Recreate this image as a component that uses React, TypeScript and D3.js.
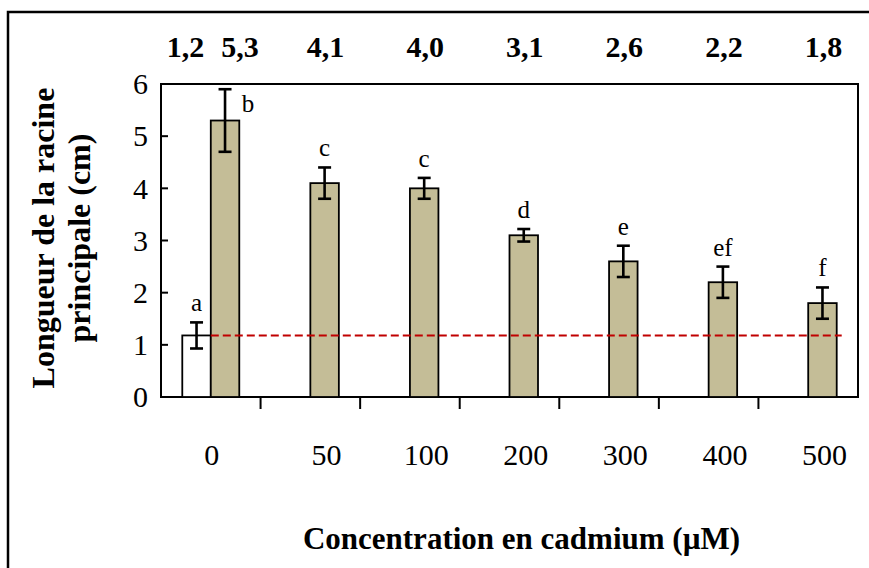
import { useRef, useEffect } from 'react';
import * as d3 from 'd3';

const concentrations = ['0', '50', '100', '200', '300', '400', '500'];
// control series (only at 0 µM)
const controlMeans = [1.18, null, null, null, null, null, null];
const controlErrors = [0.25, null, null, null, null, null, null];
const controlLetters = ['a', '', '', '', '', '', ''];
// cadmium series
const cadmiumMeans = [5.3, 4.1, 4.0, 3.1, 2.6, 2.2, 1.8];
const cadmiumErrors = [0.6, 0.3, 0.2, 0.12, 0.3, 0.3, 0.3];
const cadmiumLetters = ['b', 'c', 'c', 'd', 'e', 'ef', 'f'];
const yTicks = [0, 1, 2, 3, 4, 5, 6];

const FONT = "'Liberation Serif', 'Times New Roman', Times, serif";
const fmt = (v: number) => d3.format('.1f')(v).replace('.', ',');

const RootChart = () => {
  const svgRef = useRef<SVGSVGElement>(null);

  useEffect(() => {
    const svg = d3.select(svgRef.current)
      .attr('width', 869)
      .attr('height', 568)
      .style('font-family', FONT);

    svg.selectAll('*').remove();

    const left = 161, right = 858, top = 84, bottom = 397;

    const x = d3.scaleBand()
      .domain(concentrations)
      .range([left, right])
      .padding(0);

    const y = d3.scaleLinear()
      .domain([0, 6])
      .range([bottom, top]);

    const barW = 28.5;
    const center = (c: string) => (x(c) as number) + x.bandwidth() / 2;
    const ctrlX = (c: string) => center(c) - barW;
    const cdX = (c: string) => center(c);

    // outer frame
    svg.append('rect')
      .attr('x', 8).attr('y', 12)
      .attr('width', 900).attr('height', 600)
      .attr('fill', 'none').attr('stroke', '#000').attr('stroke-width', 2.5);

    // plot frame
    svg.append('rect')
      .attr('x', left).attr('y', top)
      .attr('width', right - left).attr('height', bottom - top)
      .attr('fill', 'none').attr('stroke', '#000').attr('stroke-width', 2);

    // y axis ticks (inside) and labels
    const yAxis = svg.append('g');
    yAxis.selectAll('line')
      .data(yTicks)
      .enter().append('line')
      .attr('x1', left).attr('x2', left + 7)
      .attr('y1', d => y(d)).attr('y2', d => y(d))
      .attr('stroke', '#000').attr('stroke-width', 2);
    yAxis.selectAll('text')
      .data(yTicks)
      .enter().append('text')
      .attr('x', left - 13)
      .attr('y', d => y(d))
      .attr('dy', '0.34em')
      .attr('text-anchor', 'end')
      .style('font-size', '30px')
      .text(d => d);

    // x ticks at category boundaries
    svg.append('g').selectAll('line')
      .data(concentrations.slice(1))
      .enter().append('line')
      .attr('x1', d => x(d) as number).attr('x2', d => x(d) as number)
      .attr('y1', bottom).attr('y2', bottom + 12)
      .attr('stroke', '#000').attr('stroke-width', 2);

    // x labels: centred on the bars present in each group
    svg.append('g').selectAll('text')
      .data(concentrations)
      .enter().append('text')
      .attr('x', (d, i) => controlMeans[i] != null ? center(d) + 1 : cdX(d) + barW / 2 + 2)
      .attr('y', 465)
      .attr('text-anchor', 'middle')
      .style('font-size', '30px')
      .text(d => d);

    // control bars
    const ctrl = concentrations
      .map((c, i) => ({ c, v: controlMeans[i], e: controlErrors[i], l: controlLetters[i] }))
      .filter(d => d.v != null) as { c: string; v: number; e: number; l: string }[];
    const cd = concentrations
      .map((c, i) => ({ c, v: cadmiumMeans[i], e: cadmiumErrors[i], l: cadmiumLetters[i] }));

    svg.append('g').selectAll('rect')
      .data(ctrl)
      .enter().append('rect')
      .attr('x', d => ctrlX(d.c))
      .attr('y', d => y(d.v))
      .attr('width', barW)
      .attr('height', d => bottom - y(d.v))
      .attr('fill', '#fff').attr('stroke', '#000').attr('stroke-width', 1.8);

    svg.append('g').selectAll('rect')
      .data(cd)
      .enter().append('rect')
      .attr('x', d => cdX(d.c))
      .attr('y', d => y(d.v))
      .attr('width', barW)
      .attr('height', d => bottom - y(d.v))
      .attr('fill', '#c4bd97').attr('stroke', '#000').attr('stroke-width', 1.8);

    // reference dashed line at control level
    const refV = ctrl[0].v;
    const lastC = concentrations[concentrations.length - 1];
    svg.append('line')
      .attr('x1', ctrlX(ctrl[0].c) + barW)
      .attr('x2', cdX(lastC) + barW + 5)
      .attr('y1', y(refV)).attr('y2', y(refV))
      .attr('stroke', '#c00000').attr('stroke-width', 2)
      .attr('stroke-dasharray', '8,4');

    // error bars
    const errData = [
      ...ctrl.map(d => ({ ...d, cx: ctrlX(d.c) + barW / 2 })),
      ...cd.map(d => ({ ...d, cx: cdX(d.c) + barW / 2 })),
    ];
    const eg = svg.append('g').attr('stroke', '#000').attr('stroke-width', 2.6);
    errData.forEach(d => {
      const y1 = y(d.v + d.e), y0 = y(d.v - d.e);
      eg.append('line').attr('x1', d.cx).attr('x2', d.cx).attr('y1', y1).attr('y2', y0);
      eg.append('line').attr('x1', d.cx - 6.5).attr('x2', d.cx + 6.5).attr('y1', y1).attr('y2', y1);
      eg.append('line').attr('x1', d.cx - 6.5).attr('x2', d.cx + 6.5).attr('y1', y0).attr('y2', y0);
    });

    // significance letters
    svg.append('g').selectAll('text')
      .data(errData)
      .enter().append('text')
      .attr('x', d => y(d.v + d.e) - 32 < top ? d.cx + 23 : d.cx)
      .attr('y', d => y(d.v + d.e) - 32 < top ? y(d.v + d.e) + 23 : y(d.v + d.e) - 11)
      .attr('text-anchor', 'middle')
      .style('font-size', '25px')
      .text(d => d.l);

    // mean values above the plot
    const topVals = [
      ...ctrl.map(d => ({ v: d.v, cx: ctrlX(d.c) + barW / 2 - 11 })),
      ...cd.map((d, i) => ({ v: d.v, cx: cdX(d.c) + barW / 2 + (i === 0 ? 15 : 1) })),
    ];
    svg.append('g').selectAll('text')
      .data(topVals)
      .enter().append('text')
      .attr('x', d => d.cx)
      .attr('y', 57)
      .attr('text-anchor', 'middle')
      .style('font-size', '30px').style('font-weight', 'bold')
      .text(d => fmt(d.v));

    // axis titles
    svg.append('text')
      .attr('x', (left + right) / 2 + 12)
      .attr('y', 549)
      .attr('text-anchor', 'middle')
      .style('font-size', '31px').style('font-weight', 'bold')
      .text('Concentration en cadmium (µM)');

    const yTitle = svg.append('text')
      .attr('transform', 'translate(0, 238) rotate(-90)')
      .attr('text-anchor', 'middle')
      .style('font-size', '32px').style('font-weight', 'bold');
    yTitle.append('tspan').attr('x', 0).attr('y', 54).text('Longueur de la racine');
    yTitle.append('tspan').attr('x', 0).attr('y', 90).text('principale (cm)');
  }, []);

  return <svg ref={svgRef} style={{ position: 'absolute', left: 0, top: 0 }}></svg>;
};

export default function App() {
  return <RootChart />;
}
